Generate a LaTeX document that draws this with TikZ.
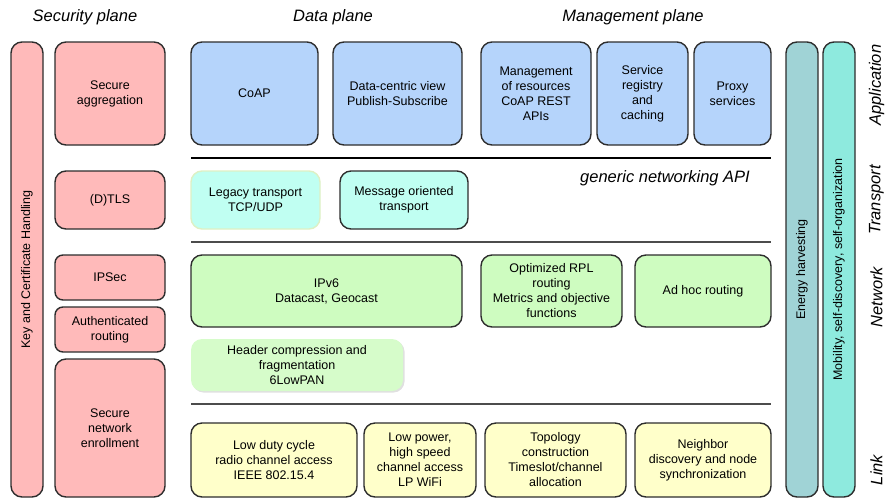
\documentclass[tikz,border=0pt]{standalone}
\usepackage{fontspec}
\setmainfont{Liberation Sans}
\definecolor{secpink}{RGB}{255,186,186}
\definecolor{appblue}{RGB}{181,212,251}
\definecolor{trcyan}{RGB}{192,255,242}
\definecolor{netgreen}{RGB}{206,252,192}
\definecolor{hcgreen}{RGB}{214,252,202}
\definecolor{linkyellow}{RGB}{255,255,202}
\definecolor{energyteal}{RGB}{160,211,214}
\definecolor{mobturq}{RGB}{142,234,222}
\definecolor{boxline}{RGB}{45,45,45}
\tikzset{
	layerbox/.style={draw=boxline, line width=1.4pt, rounded corners=11pt, align=center, inner sep=0pt,
		font=\fontsize{12.5}{15}\selectfont},
	smallbox/.style={layerbox, rounded corners=8pt},
	planetitle/.style={font=\fontsize{16.5}{18}\selectfont\itshape},
	layertitle/.style={planetitle, rotate=90}
}

\begin{document}
\begin{tikzpicture}[x=1pt, y=-1pt]
	\useasboundingbox (0,0) rectangle (886,499);
	
	%plane titles
	\node[planetitle] (secplane) at (85, 17) {Security plane};
	\node[planetitle] (dataplane) at (333, 17) {Data plane};
	\node[planetitle] (mgmtplane) at (633, 17) {Management plane};
	
	%security plane
	\node[layerbox, fill=secpink, rotate=90, minimum width=455, minimum height=32] (keyhandling) at (27, 269.5) {Key and Certificate Handling};
	\node[layerbox, fill=secpink, minimum width=110, minimum height=103] (secagg) at (110, 93.5) {Secure\\aggregation};
	\node[layerbox, fill=secpink, minimum width=110, minimum height=58] (dtls) at (110, 200) {(D)TLS};
	\node[smallbox, fill=secpink, minimum width=110, minimum height=45] (ipsec) at (110, 277.5) {IPSec};
	\node[smallbox, fill=secpink, minimum width=110, minimum height=45] (authrouting) at (110, 329.5) {Authenticated\\routing};
	\node[layerbox, fill=secpink, minimum width=110, minimum height=138] (enrollment) at (110, 428) {Secure\\network\\enrollment};
	
	%application layer
	\node[layerbox, fill=appblue, minimum width=127, minimum height=103] (coap) at (254.5, 93.5) {CoAP};
	\node[layerbox, fill=appblue, minimum width=129, minimum height=103] (datacentric) at (397.5, 93.5) {Data-centric view\\Publish-Subscribe};
	\node[layerbox, fill=appblue, minimum width=110, minimum height=103] (mgmtres) at (536, 93.5) {Management\\of resources\\CoAP REST\\APIs};
	\node[layerbox, fill=appblue, minimum width=91, minimum height=103] (registry) at (642.5, 93.5) {Service\\registry\\and\\caching};
	\node[layerbox, fill=appblue, minimum width=77, minimum height=103] (proxy) at (732.5, 93.5) {Proxy\\services};
	\draw[line width=2pt] (191, 158) -- (771, 158);
	\node[planetitle] (netapi) at (665, 178) {generic networking API};
	
	%transport layer
	\node[layerbox, fill=trcyan, draw={rgb,255:red,222;green,240;blue,196}, minimum width=129, minimum height=58] (legacy) at (255.5, 200) {Legacy transport\\TCP/UDP};
	\node[layerbox, fill=trcyan, minimum width=128, minimum height=58] (msgoriented) at (404, 200) {Message oriented\\transport};
	\draw[line width=1.3pt, black!70] (191, 242) -- (771, 242);
	
	%network layer
	\node[layerbox, fill=netgreen, minimum width=271, minimum height=72] (ipv6) at (326.5, 291) {IPv6\\Datacast, Geocast};
	\node[layerbox, fill=netgreen, minimum width=141, minimum height=72] (rpl) at (551.5, 291) {Optimized RPL\\routing\\Metrics and objective\\functions};
	\node[layerbox, fill=netgreen, minimum width=136, minimum height=72] (adhoc) at (703, 291) {Ad hoc routing};
	\node[layerbox, draw=none, fill=black!12, minimum width=212, minimum height=52] (hcshadow) at (298.5, 366.5) {};
	\node[layerbox, draw=none, fill=hcgreen, minimum width=212, minimum height=52] (header) at (297, 365) {Header compression and\\fragmentation\\6LowPAN};
	\draw[line width=1.3pt, black!70] (191, 404) -- (771, 404);
	
	%link layer
	\node[layerbox, fill=linkyellow, minimum width=166, minimum height=74] (lowduty) at (274, 460) {Low duty cycle\\radio channel access\\IEEE 802.15.4};
	\node[layerbox, fill=linkyellow, minimum width=112, minimum height=74] (lowpower) at (420, 460) {Low power,\\high speed\\channel access\\LP WiFi};
	\node[layerbox, fill=linkyellow, minimum width=141, minimum height=74] (topology) at (555.5, 460) {Topology\\construction\\Timeslot/channel\\allocation};
	\node[layerbox, fill=linkyellow, minimum width=136, minimum height=74] (neighbor) at (703, 460) {Neighbor\\discovery and node\\synchronization};
	
	%cross-layer bars
	\node[layerbox, fill=energyteal, rotate=90, minimum width=455, minimum height=32] (energy) at (802, 269.5) {Energy harvesting};
	\node[layerbox, fill=mobturq, rotate=90, minimum width=455, minimum height=32] (mobility) at (839, 269.5) {Mobility, self-discovery, self-organization};
	
	%layer titles
	\node[layertitle] (application) at (876.5, 85) {Application};
	\node[layertitle] (transport) at (876.5, 200) {Transport};
	\node[layertitle] (network) at (876.5, 297) {Network};
	\node[layertitle] (link) at (876.5, 470) {Link};
\end{tikzpicture}
\end{document}
